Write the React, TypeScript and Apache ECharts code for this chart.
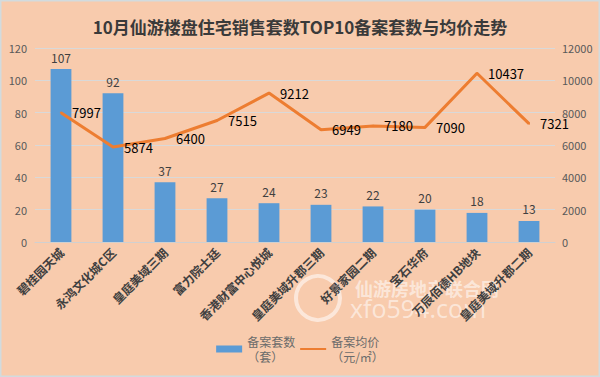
import React, { useEffect, useRef } from "react";
import * as echarts from "echarts";

const categories = [
  "碧桂园天城",
  "永鸿文化城C区",
  "皇庭美域三期",
  "富力院士廷",
  "香港财富中心悦城",
  "皇庭美域升郡三期",
  "好景家园二期",
  "宝石华府",
  "万辰佰德HB地块",
  "皇庭美域升郡二期",
];
const countValues = [107, 92, 37, 27, 24, 23, 22, 20, 18, 13];
const priceValues = [7997, 5874, 6400, 7515, 9212, 6949, 7180, 7090, 10437, 7321];
const countName = "备案套数\n（套）";
const priceName = "备案均价\n（元/㎡）";
const titleText = "10月仙游楼盘住宅销售套数TOP10备案套数与均价走势";

export default function App() {
  const ref = useRef<HTMLDivElement>(null);
  useEffect(() => {
    if (!ref.current) return;
    const chart = echarts.init(ref.current, null, { renderer: "svg" });
    const sans = "'Noto Sans CJK SC', 'Noto Sans', sans-serif";
    chart.setOption({
      animation: false,
      backgroundColor: "#F8CBAD",
      textStyle: { fontFamily: sans },
      title: {
        text: titleText,
        left: "center",
        top: 13,
        textStyle: { fontSize: 17, fontWeight: "bold", color: "#3a3a3a", fontFamily: sans },
      },
      legend: {
        bottom: 8,
        left: "center",
        itemGap: 4,
        itemWidth: 26,
        itemHeight: 7,
        textStyle: { color: "#6b6b6b", fontSize: 12, lineHeight: 15, fontFamily: sans },
        data: [
          { name: countName, icon: "rect" },
          { name: priceName, itemStyle: { opacity: 0 } },
        ],
      },
      grid: { left: 35, right: 45, top: 48, bottom: 135 },
      xAxis: {
        type: "category",
        data: categories,
        axisLine: { lineStyle: { color: "#d0d0d0", width: 1 } },
        axisTick: { show: false },
        axisLabel: {
          rotate: 45,
          interval: 0,
          color: "#404040",
          fontSize: 12,
          fontWeight: "bold",
          margin: 8,
          fontFamily: sans,
        },
      },
      yAxis: [
        {
          type: "value",
          min: 0,
          max: 120,
          interval: 20,
          axisLine: { show: false },
          axisTick: { show: false },
          splitLine: { lineStyle: { color: "#d9d9d9", width: 1 } },
          axisLabel: { color: "#595959", fontSize: 11, margin: 8 },
        },
        {
          type: "value",
          min: 0,
          max: 12000,
          interval: 2000,
          axisLine: { show: false },
          axisTick: { show: false },
          splitLine: { show: false },
          axisLabel: {
            color: "#595959",
            fontSize: 11,
            margin: 7,
            formatter: (v: number) => String(v),
          },
        },
      ],
      series: [
        {
          name: countName,
          type: "bar",
          data: countValues,
          barWidth: "40%",
          itemStyle: { color: "#5B9BD5" },
          label: { show: true, position: "top", distance: 6, color: "#404040", fontSize: 12 },
        },
        {
          name: priceName,
          type: "line",
          yAxisIndex: 1,
          data: priceValues,
          symbol: "circle",
          symbolSize: 2,
          showSymbol: true,
          lineStyle: { color: "#ED7D31", width: 3 },
          itemStyle: { color: "#ED7D31" },
          label: { show: true, position: "right", distance: 10, color: "#000", fontSize: 13 },
          labelLayout: { hideOverlap: false },
        },
      ],
      graphic: [
        {
          type: "rect",
          shape: { x: 0.5, y: 0.5, width: 599, height: 376 },
          style: { fill: "none", stroke: "#d2dbde", lineWidth: 2 },
          silent: true,
        },
        {
          type: "group",
          silent: true,
          children: [
            {
              type: "circle",
              shape: { cx: 318, cy: 298, r: 22 },
              style: { fill: "none", stroke: "rgba(255,255,255,0.55)", lineWidth: 4 },
            },
            {
              type: "text",
              x: 355,
              y: 288,
              style: {
                text: "仙游房地产联合网",
                fill: "rgba(255,255,255,0.55)",
                fontSize: 18,
                fontWeight: "bold",
                fontFamily: sans,
                verticalAlign: "middle",
              },
            },
            {
              type: "text",
              x: 350,
              y: 308,
              style: {
                text: "xfo594.com",
                fill: "rgba(255,255,255,0.55)",
                fontSize: 25,
                fontFamily: "'Open Sans', sans-serif",
                verticalAlign: "middle",
              },
            },
          ],
        },
      ],
    });
    return () => chart.dispose();
  }, []);
  return (
    <div
      ref={ref}
      style={{ position: "fixed", left: 0, top: 0, width: 600, height: 377 }}
    />
  );
}
